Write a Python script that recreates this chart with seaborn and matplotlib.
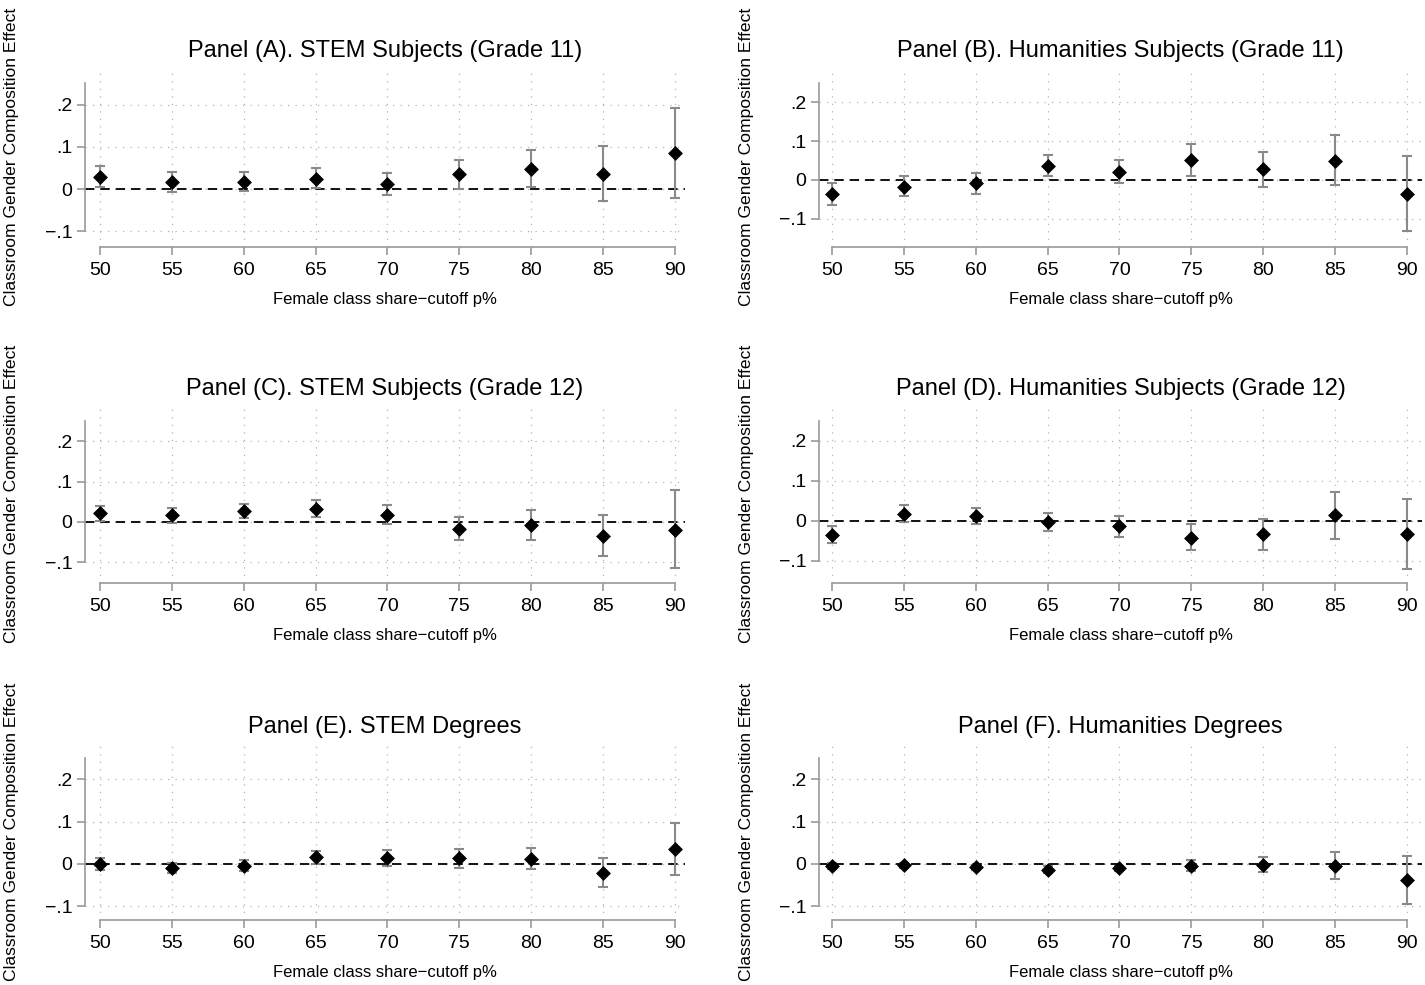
import matplotlib
matplotlib.use('Agg')
import matplotlib.pyplot as plt
import seaborn as sns
import pandas as pd

cutoffs = [50, 55, 60, 65, 70, 75, 80, 85, 90]

a_est = [0.029, 0.017, 0.017, 0.025, 0.012, 0.035, 0.048, 0.036, 0.085]
a_lo = [0.006, -0.006, -0.004, 0.002, -0.015, 0.001, 0.006, -0.028, -0.021]
a_hi = [0.055, 0.040, 0.040, 0.050, 0.038, 0.068, 0.092, 0.101, 0.191]

b_est = [-0.036, -0.017, -0.009, 0.037, 0.021, 0.051, 0.027, 0.050, -0.036]
b_lo = [-0.063, -0.042, -0.036, 0.009, -0.008, 0.009, -0.019, -0.014, -0.130]
b_hi = [-0.009, 0.009, 0.019, 0.063, 0.052, 0.092, 0.073, 0.115, 0.061]

c_est = [0.021, 0.016, 0.027, 0.032, 0.018, -0.017, -0.009, -0.035, -0.020]
c_lo = [0.002, -0.002, 0.009, 0.012, -0.005, -0.046, -0.045, -0.085, -0.115]
c_hi = [0.040, 0.033, 0.045, 0.054, 0.041, 0.012, 0.029, 0.017, 0.078]

d_est = [-0.035, 0.018, 0.012, -0.003, -0.014, -0.042, -0.033, 0.014, -0.033]
d_lo = [-0.057, -0.004, -0.009, -0.026, -0.040, -0.074, -0.073, -0.046, -0.120]
d_hi = [-0.013, 0.039, 0.032, 0.020, 0.013, -0.008, 0.005, 0.073, 0.054]

e_est = [0.000, -0.009, -0.004, 0.015, 0.013, 0.013, 0.012, -0.021, 0.035]
e_lo = [-0.014, -0.021, -0.017, 0.000, -0.005, -0.009, -0.013, -0.054, -0.026]
e_hi = [0.013, 0.003, 0.009, 0.030, 0.032, 0.035, 0.037, 0.013, 0.096]

f_est = [-0.005, -0.003, -0.008, -0.014, -0.011, -0.004, -0.003, -0.004, -0.039]
f_lo = [-0.012, -0.009, -0.014, -0.022, -0.018, -0.017, -0.020, -0.035, -0.095]
f_hi = [0.003, 0.003, -0.002, -0.006, -0.004, 0.010, 0.015, 0.028, 0.018]

titles = ['Panel (A). STEM Subjects (Grade 11)', 'Panel (B). Humanities Subjects (Grade 11)',
          'Panel (C). STEM Subjects (Grade 12)', 'Panel (D). Humanities Subjects (Grade 12)',
          'Panel (E). STEM Degrees', 'Panel (F). Humanities Degrees']
ytick_vals = [-0.1, 0, 0.1, 0.2]
ytick_labels = ['\u2212.1', '0', '.1', '.2']
xlabel = 'Female class share\u2212cutoff p%'
ylabel = 'Classroom Gender Composition Effect'

panels = [(a_est, a_lo, a_hi), (b_est, b_lo, b_hi), (c_est, c_lo, c_hi),
          (d_est, d_lo, d_hi), (e_est, e_lo, e_hi), (f_est, f_lo, f_hi)]

sns.set_style('white')
plt.rcParams['font.family'] = ['Liberation Sans', 'DejaVu Sans']
plt.rcParams['text.color'] = 'black'
plt.rcParams['axes.labelcolor'] = 'black'

W, H = 1425, 985
fig = plt.figure(figsize=(W / 100, H / 100), dpi=100)

# pixel boxes: left, right, top, bottom, xlim, ylim
boxes = [
    (85, 685, 67, 247, (48.96, 90.7), (-0.137, 0.289)),
    (819, 1422, 67, 247, (49.1, 91.04), (-0.172, 0.29)),
    (85, 685, 405, 583, (48.96, 90.7), (-0.152, 0.29)),
    (819, 1422, 405, 583, (49.1, 91.04), (-0.156, 0.29)),
    (85, 685, 743, 920, (48.96, 90.7), (-0.133, 0.286)),
    (819, 1422, 743, 920, (49.1, 91.04), (-0.133, 0.286)),
]

axis_grey = '#9a9a9a'
bar_grey = '#8a8a8a'

for i, ((est, lo, hi), box) in enumerate(zip(panels, boxes)):
    l, r, t, b, xl, yl = box
    ax = fig.add_axes([l / W, 1 - b / H, (r - l) / W, (b - t) / H])
    df = pd.DataFrame({'cutoff': cutoffs, 'est': est, 'lo': lo, 'hi': hi})

    ax.set_xlim(*xl)
    ax.set_ylim(*yl)
    ax.set_xticks(cutoffs)
    ax.set_xticklabels([str(c) for c in cutoffs])
    ax.set_yticks(ytick_vals)
    ax.set_yticklabels(ytick_labels)

    ax.grid(True, color='#b5b5b5', linestyle=(0, (1, 5)), linewidth=0.9)
    ax.set_axisbelow(True)
    ax.axhline(0, color='black', linestyle=(0, (5.2, 3.3)), linewidth=1.3, zorder=2)

    ax.errorbar(df['cutoff'], df['est'],
                yerr=[df['est'] - df['lo'], df['hi'] - df['est']],
                fmt='none', ecolor=bar_grey, elinewidth=1.5, capsize=3.8, capthick=1.5, zorder=3)
    sns.scatterplot(data=df, x='cutoff', y='est', marker='D', s=50, color='black',
                    edgecolor='black', linewidth=0.5, ax=ax, zorder=4, legend=False)

    for side in ['top', 'right']:
        ax.spines[side].set_visible(False)
    ax.spines['left'].set_bounds(-0.1, 0.25)
    ax.spines['bottom'].set_bounds(50, 90)
    for side in ['left', 'bottom']:
        ax.spines[side].set_color(axis_grey)
        ax.spines[side].set_linewidth(1.2)

    ax.tick_params(axis='both', which='major', length=6, width=1.2, color=axis_grey,
                   labelcolor='black', labelsize=14, direction='out', left=True, bottom=True)
    ax.tick_params(axis='y', pad=3)
    ax.tick_params(axis='x', pad=5)

    ax.set_title(titles[i], fontsize=17, pad=7, color='black')
    ax.set_xlabel(xlabel, fontsize=12, labelpad=9)
    ax.set_ylabel(ylabel, fontsize=12.6)
    ax.yaxis.set_label_coords((19 - l) / (r - l) if i % 2 == 0 else (754 - l) / (r - l), 0.5)

fig.savefig('out.png', dpi=100)
plt.close(fig)
